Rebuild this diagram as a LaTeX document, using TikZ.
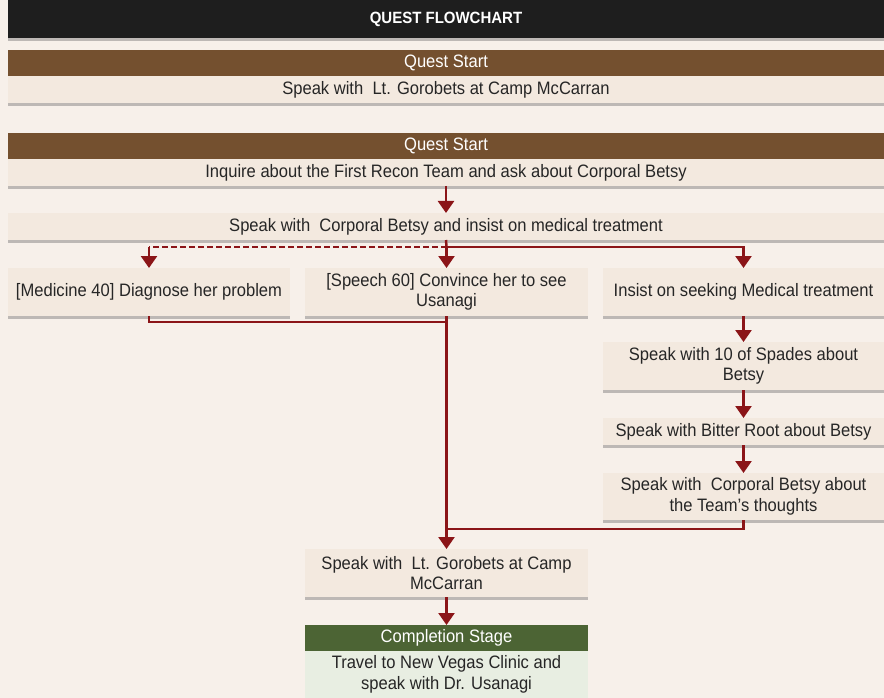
\documentclass[tikz,border=0pt]{standalone}
\usepackage{fontspec}
\setmainfont{Liberation Sans}[FakeStretch=0.92]
\usetikzlibrary{arrows.meta,shadows}
\definecolor{bg}{RGB}{247,240,234}
\definecolor{boxc}{RGB}{243,233,223}
\definecolor{brownc}{RGB}{116,80,47}
\definecolor{redc}{RGB}{139,21,24}
\definecolor{greenh}{RGB}{76,100,52}
\definecolor{greenb}{RGB}{232,238,226}
\definecolor{blackh}{RGB}{30,30,30}
\tikzset{
  base/.style={inner sep=0pt, outer sep=0pt, align=center, font=\fontsize{18}{20.5}\selectfont, text=black!85},
  shad/.style={drop shadow={shadow xshift=0pt, shadow yshift=-3pt, opacity=0.4, fill=black!60}},
  bodybox/.style={base, shad, fill=boxc},
  hdr/.style={base, fill=brownc, text=white},
  ghdr/.style={base, fill=greenh, text=white},
  gbody/.style={base, fill=greenb},
  conn/.style={draw=redc, line width=2.5pt},
  arr/.style={conn, -{Triangle[width=16pt,length=12pt]}},
}
\begin{document}
\begin{tikzpicture}[x=1pt,y=-1pt]
\fill[bg] (0,0) rectangle (884,698);
\useasboundingbox (0,0) rectangle (884,698);
% title
\node[base, shad, fill=blackh, text=white, minimum width=876pt, minimum height=38pt, font=\bfseries\fontsize{16.3}{18}\selectfont] (title) at (446,19) {QUEST FLOWCHART};
% stage 1
\node[bodybox, minimum width=876pt, minimum height=53pt] (s1sh) at (446,76.5) {};
\node[hdr, minimum width=876pt, minimum height=26pt] (s1h) at (446,63) {Quest Start};
\node[base, fill=boxc, minimum width=876pt, minimum height=27pt] (s1b) at (446,89.5) {Speak with \ Lt. Gorobets at Camp McCarran};
% stage 2
\node[bodybox, minimum width=876pt, minimum height=53pt] (s2sh) at (446,159.5) {};
\node[hdr, minimum width=876pt, minimum height=26pt] (s2h) at (446,146) {Quest Start};
\node[base, fill=boxc, minimum width=876pt, minimum height=27pt] (s2b) at (446,172.5) {Inquire about the First Recon Team and ask about Corporal Betsy};
% betsy
\node[bodybox, minimum width=876pt, minimum height=27pt] (betsy) at (446,226.5) {Speak with \ Corporal Betsy and insist on medical treatment};
% three options
\node[bodybox, minimum width=282pt, minimum height=48pt] (med) at (149,292) {[Medicine 40] Diagnose her problem};
\node[bodybox, minimum width=283pt, minimum height=48pt] (speech) at (446.5,292) {[Speech 60] Convince her to see\\Usanagi};
\node[bodybox, minimum width=281pt, minimum height=48pt] (insist) at (743.5,292) {Insist on seeking Medical treatment};
% right chain
\node[bodybox, minimum width=281pt, minimum height=48pt] (spades) at (743.5,366) {Speak with 10 of Spades about\\Betsy};
\node[bodybox, minimum width=281pt, minimum height=27pt] (bitter) at (743.5,431.5) {Speak with Bitter Root about Betsy};
\node[bodybox, minimum width=281pt, minimum height=47pt] (betsy2) at (743.5,496.5) {Speak with \ Corporal Betsy about\\the Team's thoughts};
% gorobets
\node[bodybox, minimum width=283pt, minimum height=48pt] (gor) at (446.5,573) {Speak with \ Lt. Gorobets at Camp\\McCarran};
% completion
\node[ghdr, minimum width=283pt, minimum height=26pt] (ch) at (446.5,638) {Completion Stage};
\node[gbody, minimum width=283pt, minimum height=47pt] (cb) at (446.5,674.5) {Travel to New Vegas Clinic and\\speak with Dr. Usanagi};
% connectors
\coordinate (br) at (446.5,247);
\coordinate (j1) at (446.5,322);
\coordinate (j2) at (446.5,529);
\draw[arr] (s2b.south) -- (betsy.north);
\draw[conn] (betsy.south) -- (br);
\draw[conn, dash pattern=on 6pt off 3pt] (br) -- (br -| med.north);
\draw[arr] (br -| med.north) -- (med.north);
\draw[arr] (br) -- (speech.north);
\draw[arr] (br) -| (insist.north);
\draw[conn] (med.south) |- (j1);
\draw[arr] (speech.south) -- (gor.north);
\draw[arr] (insist.south) -- (spades.north);
\draw[arr] (spades.south) -- (bitter.north);
\draw[arr] (bitter.south) -- (betsy2.north);
\draw[conn] (betsy2.south) |- (j2);
\draw[arr] (gor.south) -- (ch.north);
\end{tikzpicture}
\end{document}
